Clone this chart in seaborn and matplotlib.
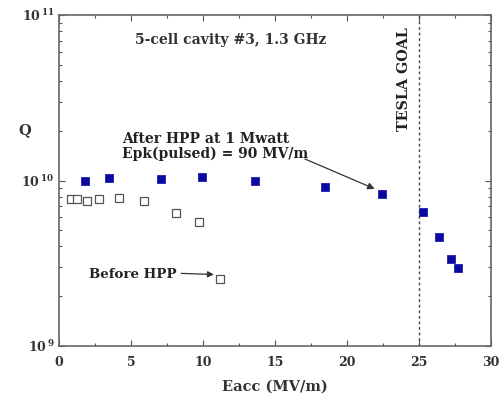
import matplotlib
matplotlib.use("Agg")
import matplotlib.pyplot as plt
import seaborn as sns
import pandas as pd
import numpy as np
from matplotlib.ticker import MultipleLocator, LogLocator, NullFormatter, FixedLocator, FixedFormatter

# Data
after_eacc = [1.8, 3.5, 7.1, 9.9, 13.6, 18.5, 22.4, 25.3, 26.4, 27.2, 27.7]
after_q = [1.0e10, 1.035e10, 1.02e10, 1.05e10, 1.0e10, 0.91e10, 0.83e10, 0.645e10, 0.455e10, 0.336e10, 0.296e10]
before_eacc = [0.85, 1.25, 1.95, 2.75, 4.15, 5.9, 8.1, 9.7, 11.2]
before_q = [0.773e10, 0.77e10, 0.75e10, 0.77e10, 0.78e10, 0.75e10, 0.636e10, 0.56e10, 0.254e10]
x_ticks = [0, 5, 10, 15, 20, 25, 30]
x_tick_labels = ["0", "5", "10", "15", "20", "25", "30"]
y_ticks = [1e9, 1e10, 1e11]
y_tick_labels = ["10$^{\\,9}$", "10$^{\\,10}$", "10$^{\\,11}$"]
tesla_goal = 25

sns.set_style("ticks")
plt.rcParams['font.family'] = ['DejaVu Serif']
plt.rcParams['font.weight'] = 'bold'
plt.rcParams['mathtext.fontset'] = 'dejavuserif'
plt.rcParams['mathtext.default'] = 'bf'

fig = plt.figure(figsize=(5.04, 3.94), dpi=100)
ax = fig.add_axes([59/504, 1-346/394, (491-59)/504, (346-15)/394])

df_a = pd.DataFrame({"Eacc": after_eacc, "Q": after_q})
df_b = pd.DataFrame({"Eacc": before_eacc, "Q": before_q})

sns.scatterplot(data=df_b, x="Eacc", y="Q", ax=ax, marker="s", s=30,
                facecolor="white", edgecolor="#555555", linewidth=0.9, zorder=3)
sns.scatterplot(data=df_a, x="Eacc", y="Q", ax=ax, marker="s", s=36,
                color="#0a0aa0", edgecolor="#0a0aa0", linewidth=0.5, zorder=4)

ax.set_yscale("log")
ax.set_xlim(0, 30)
ax.set_ylim(1e9, 1e11)

ax.xaxis.set_major_locator(FixedLocator(x_ticks))
ax.xaxis.set_major_formatter(FixedFormatter(x_tick_labels))
ax.xaxis.set_minor_locator(MultipleLocator(2.5))
ax.yaxis.set_major_locator(FixedLocator(y_ticks))
ax.yaxis.set_major_formatter(FixedFormatter(y_tick_labels))
ax.yaxis.set_minor_locator(LogLocator(base=10, subs=np.arange(2, 10)))
ax.yaxis.set_minor_formatter(NullFormatter())

ax.tick_params(which="both", direction="in", top=True, right=True, colors="#555555",
               labelcolor="#333333", labelsize=9, width=0.8)
ax.tick_params(which="major", length=4)
ax.tick_params(which="minor", length=2.5)
ax.tick_params(axis="x", pad=7)
for sp in ax.spines.values():
    sp.set_color("#666666")
    sp.set_linewidth(1.2)

ax.set_xlabel("Eacc (MV/m)", fontsize=10.5, fontweight="bold", color="#333333", labelpad=8)
ax.set_ylabel("")
fig.text(25/504, 1-130/394, "Q", fontsize=10.5, fontweight="bold", color="#333333",
         ha="center", va="center")

ax.axvline(tesla_goal, color="#444444", linestyle=(0, (2, 2)), linewidth=1.0, zorder=2)

ax.text(5.3, 7.06e10, "5-cell cavity #3, 1.3 GHz", fontsize=10, fontweight="bold",
        color="#333333", ha="left", va="center")
ax.text(23.95, 8.46e10, "TESLA GOAL", fontsize=10.3, fontweight="bold", rotation=90,
        color="#222222", ha="center", va="top")
ax.text(4.35, 1.6e10, "After HPP at 1 Mwatt\nEpk(pulsed) = 90 MV/m", fontsize=10,
        fontweight="bold", color="#222222", ha="left", va="center", linespacing=1.05)
ax.annotate("", xy=(22.1, 0.877e10), xytext=(16.9, 1.37e10),
            arrowprops=dict(arrowstyle="-|>", color="#333333", lw=0.9, mutation_scale=10))
ax.text(2.1, 0.272e10, "Before HPP", fontsize=9.6, fontweight="bold", color="#222222",
        ha="left", va="center")
ax.annotate("", xy=(10.95, 0.27e10), xytext=(8.3, 0.275e10),
            arrowprops=dict(arrowstyle="-|>", color="#333333", lw=0.9, mutation_scale=9))

fig.savefig("out.png", dpi=100)
